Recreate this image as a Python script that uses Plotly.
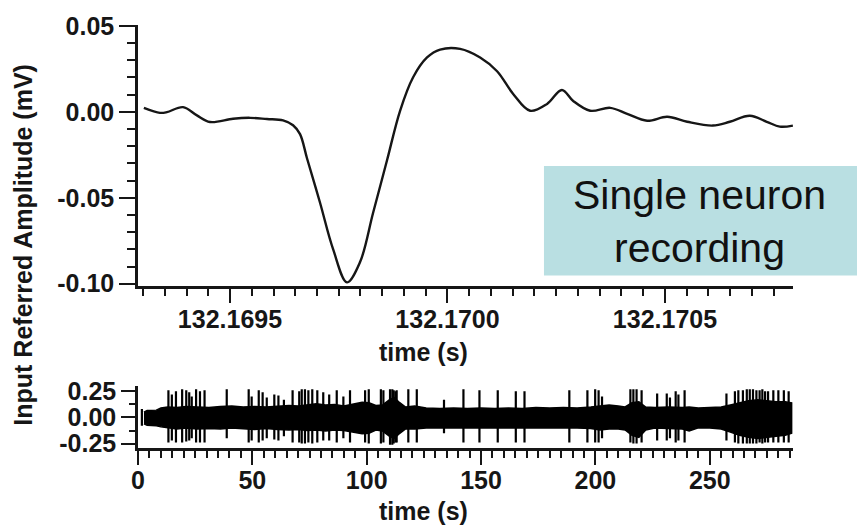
import plotly.graph_objects as go

# ---- spike waveform (top panel) ----
wave_t = [132.169302, 132.169339, 132.169355, 132.169392, 132.169424, 132.169454,
          132.169507, 132.169546, 132.169585, 132.169622, 132.169645, 132.169661,
          132.169677, 132.169707, 132.169737, 132.169769, 132.169799, 132.169829,
          132.169861, 132.169891, 132.169921, 132.169953, 132.169983, 132.170029,
          132.170075, 132.170114, 132.170151, 132.170190, 132.170229, 132.170263,
          132.170289, 132.170328, 132.170374, 132.170413, 132.170459, 132.170505,
          132.170551, 132.170610, 132.170649, 132.170695, 132.170734, 132.170764,
          132.170794]
wave_mv = [0.0023, -0.0006, -0.0002, 0.0027, -0.0021, -0.0059, -0.0040, -0.0035,
           -0.0042, -0.0050, -0.0078, -0.0130, -0.0270, -0.0529, -0.0799, -0.0992,
           -0.0874, -0.0587, -0.0282, 0.0006, 0.0201, 0.0316, 0.0362, 0.0366,
           0.0316, 0.0236, 0.0104, 0.0006, 0.0046, 0.0127, 0.0063, 0.0006,
           0.0023, -0.0012, -0.0052, -0.0029, -0.0058, -0.0080, -0.0058, -0.0023,
           -0.0058, -0.0086, -0.0080]

# ---- long recording (bottom panel): noise envelope + spike events ----
band_t = [2.6, 4, 8, 10, 13, 17, 21, 26, 31, 36, 41, 46, 51, 56, 61, 66, 70, 74,
          78, 82, 86, 90, 94, 98, 101, 104, 107, 110, 112, 114, 117, 121, 126, 132,
          138, 144, 150, 156, 162, 168, 174, 180, 186, 192, 198, 202, 206, 210, 213,
          216, 219, 222, 226, 232, 238, 241, 245, 250, 255, 259, 263, 267, 271, 275,
          279, 283, 285.8]
band_hi = [0.05, 0.066, 0.07, 0.09, 0.10, 0.095, 0.105, 0.10, 0.095, 0.105, 0.11,
           0.10, 0.105, 0.10, 0.11, 0.115, 0.11, 0.12, 0.13, 0.12, 0.125, 0.11, 0.13,
           0.145, 0.14, 0.115, 0.12, 0.17, 0.19, 0.15, 0.10, 0.11, 0.09, 0.085, 0.09,
           0.085, 0.09, 0.085, 0.09, 0.085, 0.095, 0.09, 0.095, 0.09, 0.10, 0.11, 0.12,
           0.11, 0.10, 0.14, 0.15, 0.10, 0.095, 0.10, 0.095, 0.10, 0.09, 0.095, 0.10,
           0.12, 0.14, 0.16, 0.17, 0.16, 0.15, 0.15, 0.14]
band_lo = [-0.06, -0.075, -0.08, -0.09, -0.10, -0.11, -0.10, -0.11, -0.105, -0.11,
           -0.10, -0.11, -0.115, -0.105, -0.115, -0.12, -0.115, -0.125, -0.12, -0.13,
           -0.12, -0.125, -0.14, -0.155, -0.15, -0.12, -0.13, -0.18, -0.20, -0.16,
           -0.11, -0.11, -0.10, -0.10, -0.095, -0.10, -0.10, -0.095, -0.10, -0.10,
           -0.10, -0.095, -0.10, -0.10, -0.105, -0.12, -0.11, -0.11, -0.12, -0.17,
           -0.19, -0.12, -0.10, -0.105, -0.11, -0.13, -0.10, -0.10, -0.11, -0.14,
           -0.17, -0.19, -0.20, -0.19, -0.18, -0.17, -0.15]

spike_t = [1.7, 13.3, 14.8, 16.6, 19.3, 21.1, 22.4, 23.5, 25.4, 27.1, 29.1, 38.8,
           48.4, 49.7, 52.8, 54.5, 56.3, 59.6, 61.4, 63.8, 67.6, 70.5, 71.6, 73.0,
           74.5, 76.2, 78.4, 81.0, 83.6, 86.9, 89.8, 92.7, 99.3, 100.9, 106.2,
           107.3, 110.2, 111.2, 111.8, 112.6, 113.1, 118.2, 121.9, 133.8, 142.3,
           149.3, 157.3, 165.2, 169.0, 188.6, 196.5, 199.9, 201.4, 202.9, 215.3,
           216.6, 218.0, 220.2, 227.0, 231.2, 232.6, 235.1, 236.3, 239.0, 257.3,
           261.0, 262.5, 264.5, 266.2, 267.5, 268.9, 270.4, 271.8, 273.0, 274.2,
           275.5, 277.8, 280.0, 282.4, 284.5]
spike_hi = [0.08, 0.26, 0.22, 0.25, 0.27, 0.26, 0.24, 0.20, 0.27, 0.25, 0.26, 0.27,
            0.27, 0.20, 0.26, 0.24, 0.19, 0.22, 0.21, 0.17, 0.26, 0.25, 0.27, 0.27,
            0.26, 0.27, 0.26, 0.24, 0.22, 0.26, 0.20, 0.26, 0.26, 0.27, 0.27, 0.26,
            0.27, 0.27, 0.26, 0.25, 0.26, 0.27, 0.27, 0.17, 0.27, 0.26, 0.26, 0.25,
            0.25, 0.26, 0.26, 0.27, 0.26, 0.20, 0.27, 0.27, 0.27, 0.26, 0.23, 0.23,
            0.19, 0.25, 0.22, 0.26, 0.23, 0.25, 0.26, 0.26, 0.27, 0.27, 0.27, 0.26,
            0.26, 0.27, 0.25, 0.25, 0.26, 0.26, 0.26, 0.25]
spike_lo = [-0.08, -0.24, -0.22, -0.24, -0.24, -0.23, -0.22, -0.20, -0.24, -0.24,
            -0.24, -0.20, -0.24, -0.22, -0.24, -0.22, -0.20, -0.21, -0.22, -0.18,
            -0.24, -0.24, -0.25, -0.25, -0.24, -0.25, -0.24, -0.22, -0.22, -0.24,
            -0.20, -0.24, -0.24, -0.25, -0.25, -0.24, -0.26, -0.26, -0.25, -0.24,
            -0.24, -0.24, -0.24, -0.15, -0.24, -0.24, -0.24, -0.24, -0.24, -0.24,
            -0.24, -0.24, -0.24, -0.20, -0.24, -0.25, -0.25, -0.24, -0.22, -0.22,
            -0.20, -0.24, -0.22, -0.24, -0.22, -0.24, -0.25, -0.25, -0.25, -0.25,
            -0.25, -0.25, -0.24, -0.25, -0.24, -0.24, -0.24, -0.24, -0.24, -0.24]

# ---- axis ticks and labels ----
top_x_ticks = [132.1695, 132.1700, 132.1705]
top_x_labels = ["132.1695", "132.1700", "132.1705"]
top_y_ticks = [-0.10, -0.05, 0.00, 0.05]
top_y_labels = ["-0.10", "-0.05", "0.00", "0.05"]
bot_x_ticks = [0, 50, 100, 150, 200, 250]
bot_x_labels = ["0", "50", "100", "150", "200", "250"]
bot_y_ticks = [-0.25, 0.00, 0.25]
bot_y_labels = ["-0.25", "0.00", "0.25"]

INK = "#161616"
FONT = "Liberation Sans, Arial, Helvetica, sans-serif"
tickfont = dict(family=FONT, size=25, color=INK, weight="bold")

fig = go.Figure()

fig.add_trace(go.Scatter(
    x=wave_t, y=wave_mv, mode="lines",
    line=dict(color=INK, width=2.4, shape="spline", smoothing=1.0),
    xaxis="x", yaxis="y", hoverinfo="skip", showlegend=False))

# noise band as a filled envelope
fig.add_trace(go.Scatter(
    x=band_t + band_t[::-1], y=band_hi + band_lo[::-1], mode="lines",
    fill="toself", fillcolor="#000000", line=dict(color="#000000", width=1.5),
    xaxis="x2", yaxis="y2", hoverinfo="skip", showlegend=False))

# individual spikes as vertical strokes
sx, sy = [], []
for t, hi, lo in zip(spike_t, spike_hi, spike_lo):
    sx += [t, t, None]
    sy += [lo, hi, None]
fig.add_trace(go.Scatter(
    x=sx, y=sy, mode="lines", line=dict(color="#000000", width=2.2),
    xaxis="x2", yaxis="y2", hoverinfo="skip", showlegend=False))

axis_common = dict(showline=True, linecolor=INK, linewidth=2.5, ticks="outside",
                   tickcolor=INK, tickwidth=2, showgrid=False, zeroline=False,
                   tickfont=tickfont, mirror=False)

fig.update_layout(
    width=857, height=531,
    margin=dict(l=138, r=64, t=19, b=83),
    paper_bgcolor="white", plot_bgcolor="white",
    xaxis=dict(domain=[0, 1], anchor="y", range=[132.1692885, 132.1707943],
               tickmode="array", tickvals=top_x_ticks, ticktext=top_x_labels, ticklen=14,
               ticklabelstandoff=-5,
               minor=dict(tickmode="linear", tick0=132.1695, dtick=0.00005, ticklen=7,
                          tickwidth=1.5, tickcolor=INK, ticks="outside"),
               **axis_common),
    yaxis=dict(domain=[0.3823, 1.0], anchor="x", range=[-0.1015, 0.0505],
               tickmode="array", tickvals=top_y_ticks, ticktext=top_y_labels, ticklen=16,
               minor=dict(tickmode="linear", tick0=0, dtick=0.01, ticklen=8,
                          tickwidth=1.5, tickcolor=INK, ticks="outside"),
               **axis_common),
    xaxis2=dict(domain=[0, 1], anchor="y2", range=[0, 286.4],
                tickmode="array", tickvals=bot_x_ticks, ticktext=bot_x_labels, ticklen=14,
                ticklabelstandoff=-6,
                minor=dict(tickmode="linear", tick0=0, dtick=5, ticklen=7,
                           tickwidth=1.5, tickcolor=INK, ticks="outside"),
                **axis_common),
    yaxis2=dict(domain=[0, 0.1469], anchor="x2", range=[-0.292, 0.302],
                tickmode="array", tickvals=bot_y_ticks, ticktext=bot_y_labels, ticklen=14,
                minor=dict(tickmode="linear", tick0=0, dtick=0.125, ticklen=6,
                           tickwidth=1.5, tickcolor=INK, ticks="outside"),
                **axis_common),
)

title_font = dict(family=FONT, size=25, color=INK)

# axis titles
fig.add_annotation(text="<b>Input Referred Amplitude (mV)</b>", xref="paper", yref="paper",
                   x=-0.176, y=0.480, textangle=-90, showarrow=False, font=title_font,
                   xanchor="center", yanchor="middle")
fig.add_annotation(text="<b>time (s)</b>", xref="paper", yref="paper", x=0.4366, y=0.2261,
                   showarrow=False, font=title_font, xanchor="center", yanchor="middle")
fig.add_annotation(text="<b>time (s)</b>", xref="paper", yref="paper", x=0.4366, y=-0.149,
                   showarrow=False, font=title_font, xanchor="center", yanchor="middle")

# caption box
fig.add_shape(type="rect", xref="paper", yref="paper", x0=0.6198, x1=1.0977,
              y0=0.4079, y1=0.6667, fillcolor="#b9dfe2", line=dict(width=0), layer="above")
fig.add_annotation(text="Single neuron<br>recording", xref="paper", yref="paper",
                   x=0.857, y=0.536, showarrow=False, xanchor="center", yanchor="middle",
                   font=dict(family=FONT, size=41, color="#111111"))

fig.write_html("out.html")
